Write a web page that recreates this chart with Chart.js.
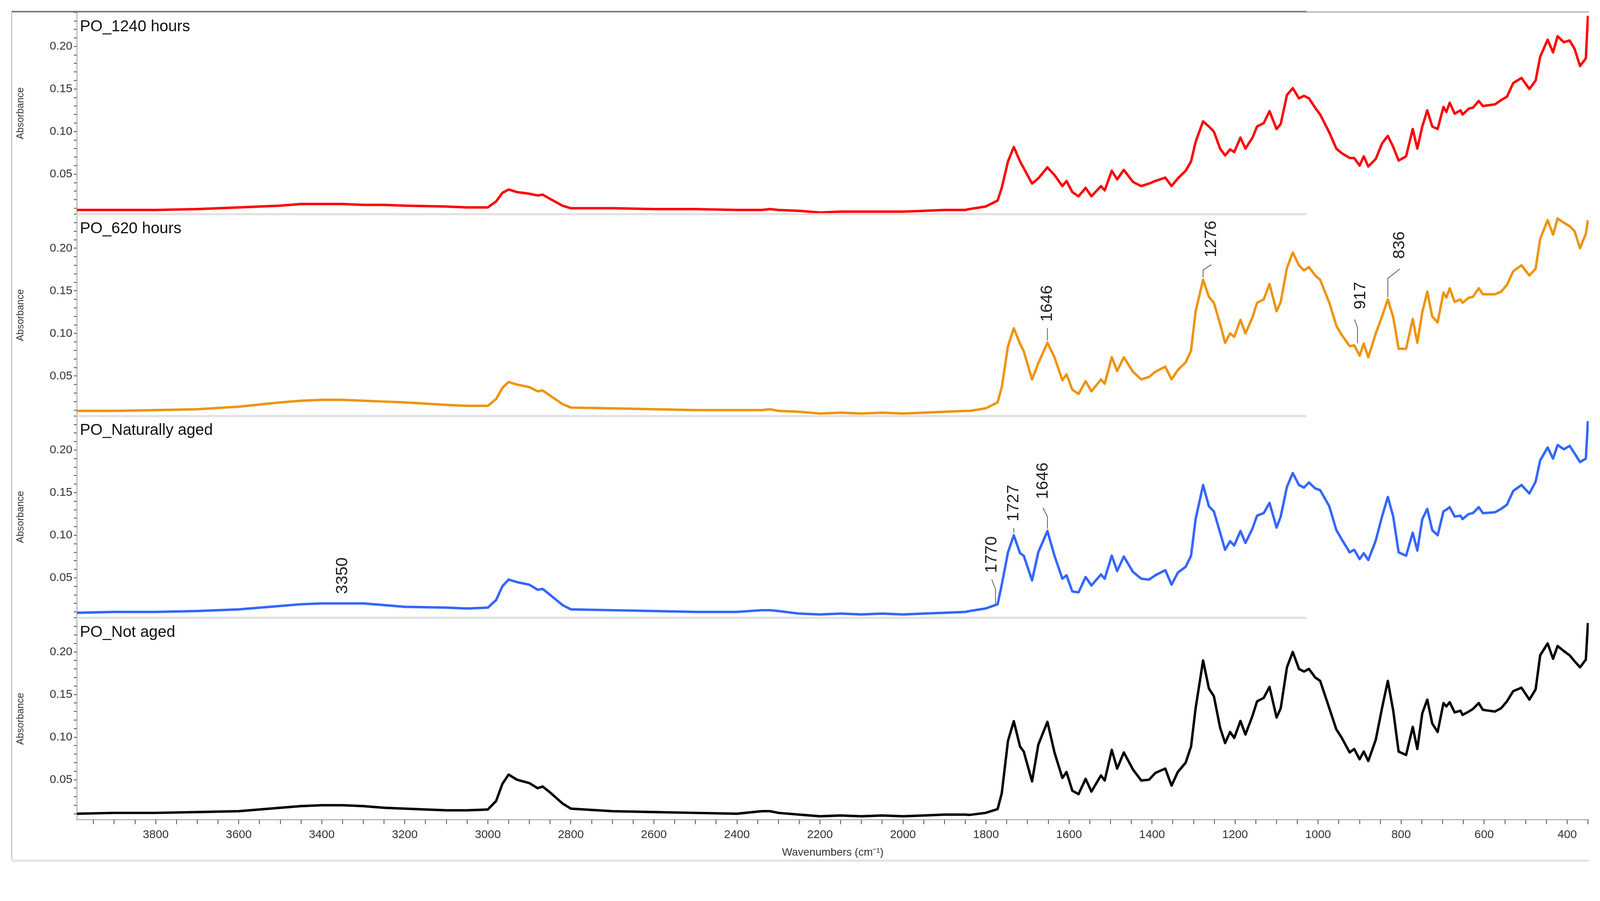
<!DOCTYPE html>
<html><head><meta charset="utf-8">
<script src="https://cdn.jsdelivr.net/npm/chart.js@4"></script>
<style>html,body{margin:0;padding:0;background:#fff;overflow:hidden}
#wrap{position:absolute;left:0;top:0;width:100vw;height:calc(100vw * 2306 / 4268)}
canvas{display:block}</style>
</head><body>
<div id="wrap"><canvas id="c"></canvas></div>
<script>
const SERIES_NAMES = ["PO_1240 hours","PO_620 hours","PO_Naturally aged","PO_Not aged"];
const WN_LEFT = [3990,3900,3800,3700,3600,3500,3450,3400,3350,3300,3250,3200,3100,3050,3000,2980,2965,2950,2930,2900,2880,2868,2850,2820,2800,2700,2600,2500,2400,2340,2320,2300,2250,2200,2150,2100,2050,2000,1950,1900,1850];
const WN_RIGHT = [1840,1801,1772,1762,1747,1733,1718,1709,1689,1674,1652,1635,1616,1606,1592,1577,1560,1546,1523,1514,1497,1484,1468,1446,1426,1407,1392,1368,1353,1338,1319,1306,1295,1277,1263,1251,1236,1224,1212,1202,1187,1175,1158,1147,1131,1117,1100,1090,1075,1061,1046,1034,1022,1007,995,973,956,944,924,913,900,890,879,861,846,832,819,806,788,772,761,749,737,725,712,698,691,683,671,657,652,637,627,613,603,574,559,545,530,510,491,476,465,447,434,423,408,394,382,369,355,350];

const RED_L = [0.008,0.008,0.008,0.009,0.011,0.013,0.015,0.015,0.015,0.014,0.014,0.013,0.012,0.011,0.011,0.018,0.028,0.032,0.029,0.027,0.025,0.026,0.021,0.013,0.010,0.010,0.009,0.009,0.008,0.008,0.009,0.008,0.007,0.005,0.006,0.006,0.006,0.006,0.007,0.008,0.008];
const RED_R = [0.009,0.012,0.019,0.034,0.065,0.082,0.065,0.057,0.039,0.045,0.058,0.049,0.036,0.042,0.029,0.024,0.034,0.024,0.036,0.031,0.054,0.044,0.055,0.041,0.036,0.039,0.042,0.046,0.036,0.045,0.054,0.065,0.088,0.112,0.106,0.100,0.080,0.072,0.079,0.076,0.093,0.080,0.093,0.106,0.110,0.124,0.103,0.109,0.143,0.151,0.139,0.142,0.139,0.128,0.120,0.099,0.080,0.075,0.069,0.069,0.060,0.071,0.059,0.068,0.086,0.095,0.082,0.066,0.071,0.103,0.080,0.106,0.125,0.106,0.103,0.129,0.123,0.134,0.121,0.125,0.120,0.127,0.128,0.136,0.130,0.132,0.137,0.141,0.157,0.163,0.150,0.160,0.188,0.208,0.193,0.212,0.205,0.207,0.197,0.177,0.186,0.236];
const ORANGE_L = [0.009,0.009,0.010,0.011,0.014,0.019,0.021,0.022,0.022,0.021,0.020,0.019,0.016,0.015,0.015,0.023,0.036,0.043,0.040,0.037,0.032,0.033,0.027,0.017,0.013,0.012,0.011,0.010,0.010,0.010,0.011,0.009,0.008,0.006,0.007,0.006,0.007,0.006,0.007,0.008,0.009];
const ORANGE_R = [0.009,0.012,0.019,0.037,0.085,0.106,0.088,0.079,0.046,0.065,0.089,0.072,0.045,0.052,0.034,0.029,0.044,0.032,0.046,0.041,0.072,0.056,0.072,0.055,0.046,0.049,0.055,0.061,0.046,0.057,0.066,0.080,0.126,0.163,0.143,0.136,0.111,0.089,0.100,0.096,0.116,0.100,0.119,0.136,0.140,0.158,0.126,0.137,0.177,0.195,0.180,0.174,0.178,0.168,0.163,0.136,0.109,0.099,0.085,0.086,0.074,0.088,0.072,0.100,0.120,0.140,0.119,0.082,0.082,0.117,0.089,0.125,0.149,0.120,0.113,0.148,0.142,0.153,0.137,0.140,0.136,0.142,0.143,0.153,0.146,0.146,0.149,0.157,0.173,0.180,0.168,0.176,0.211,0.233,0.216,0.235,0.230,0.226,0.220,0.200,0.217,0.233];
const BLUE_L = [0.009,0.010,0.010,0.011,0.013,0.017,0.019,0.020,0.020,0.020,0.018,0.016,0.015,0.014,0.015,0.024,0.040,0.048,0.045,0.042,0.036,0.037,0.030,0.018,0.013,0.012,0.011,0.010,0.010,0.012,0.012,0.011,0.008,0.007,0.008,0.007,0.008,0.007,0.008,0.009,0.010];
const BLUE_R = [0.011,0.014,0.019,0.042,0.080,0.100,0.079,0.076,0.047,0.080,0.105,0.076,0.049,0.053,0.034,0.033,0.051,0.041,0.054,0.049,0.076,0.058,0.075,0.057,0.049,0.048,0.053,0.059,0.042,0.056,0.063,0.076,0.119,0.159,0.134,0.128,0.103,0.083,0.093,0.088,0.105,0.091,0.108,0.123,0.126,0.138,0.109,0.122,0.157,0.173,0.159,0.156,0.162,0.155,0.153,0.134,0.106,0.096,0.080,0.083,0.072,0.079,0.071,0.094,0.122,0.145,0.122,0.080,0.076,0.103,0.082,0.119,0.131,0.106,0.100,0.128,0.130,0.133,0.122,0.123,0.119,0.125,0.126,0.133,0.126,0.127,0.131,0.136,0.152,0.159,0.149,0.163,0.188,0.203,0.190,0.206,0.201,0.205,0.196,0.186,0.190,0.234];
const BLACK_L = [0.010,0.011,0.011,0.012,0.013,0.017,0.019,0.020,0.020,0.019,0.017,0.016,0.014,0.014,0.015,0.025,0.045,0.056,0.050,0.046,0.040,0.042,0.035,0.022,0.016,0.013,0.012,0.011,0.010,0.013,0.013,0.011,0.009,0.007,0.008,0.007,0.008,0.007,0.008,0.009,0.009];
const BLACK_R = [0.0086,0.011,0.0155,0.034,0.0956,0.1187,0.089,0.083,0.048,0.091,0.118,0.082,0.052,0.059,0.037,0.033,0.051,0.036,0.055,0.049,0.085,0.063,0.082,0.062,0.049,0.050,0.058,0.063,0.043,0.059,0.070,0.089,0.134,0.190,0.157,0.148,0.111,0.093,0.106,0.099,0.119,0.103,0.125,0.142,0.146,0.159,0.123,0.134,0.182,0.200,0.180,0.177,0.180,0.170,0.166,0.134,0.109,0.100,0.082,0.086,0.074,0.083,0.072,0.097,0.134,0.166,0.131,0.083,0.079,0.112,0.086,0.128,0.144,0.116,0.106,0.140,0.136,0.141,0.129,0.131,0.126,0.130,0.133,0.140,0.132,0.130,0.134,0.142,0.154,0.158,0.144,0.156,0.196,0.210,0.192,0.207,0.201,0.196,0.189,0.182,0.191,0.234];

const ANN_PANEL = [1,1,1,1,2,2,2,2];
const ANN_WN    = [1652,1277,905,832,3350,1777,1733,1652];
const ANN_VAL   = [0.089,0.163,0.086,0.140,0.020,0.017,0.100,0.105];
const ANN_LABEL = ["1646","1276","917","836","3350","1770","1727","1646"];
const ANN_STYLE = [[33,0,0,17,0],[20,22,14,20,0],[41,-8,22,27,16],[50,32,25,27,0],[0,0,0,19,0],[39,-10,25,18,0],[13,0,0,18,0],[32,-12,24,23,0]];

const COLORS = ["#ff0000","#ee9410","#3366ff","#000000"];
const VALUES = [RED_L.concat(RED_R),ORANGE_L.concat(ORANGE_R),BLUE_L.concat(BLUE_R),BLACK_L.concat(BLACK_R)];
const WN = WN_LEFT.concat(WN_RIGHT);
const NARROW = "'Liberation Sans Narrow','Arial Narrow',sans-serif";
const SANS = "'Liberation Sans',Arial,sans-serif";
const AX = ['y1','y2','y3','y4'];
const S = window.innerWidth/4268;
const P = (v)=>v*S;

const datasets = VALUES.map((v,i)=>({
  label: SERIES_NAMES[i], yAxisID: AX[i],
  data: WN.map((w,j)=>({x:w,y:v[j]})),
  borderColor: COLORS[i], borderWidth: P(6.5), pointRadius: 0, tension: 0, fill:false,
  borderJoinStyle:'round'
}));

function yScale(i){
  return {
    type:'linear', position:'left', stack:'s', stackWeight:1,
    min:0.003, max:0.24, offset:false,
    border:{display:true,color:'#999',width:P(2)},
    grid:{display:true,drawOnChartArea:false,tickLength:P(8),color:'#444',lineWidth:P(2)},
    ticks:{stepSize:0.01,autoSkip:false,includeBounds:false,color:'#333',padding:P(4),
      font:{family:NARROW,size:P(31)},
      callback:(v)=>{const r=Math.round(v*100); return (r%5===0)?(r/100).toFixed(2):'';}},
    title:{display:true,text:'Absorbance',color:'#333',font:{family:SANS,size:P(26)},padding:{top:0,bottom:P(10)}},
    afterFit:(s)=>{s.width=P(165);}
  };
}
const scales = {
  x:{type:'linear',reverse:true,min:348,max:3990,
    border:{display:true,color:'#999',width:P(2)},
    grid:{display:true,drawOnChartArea:false,tickLength:P(12),color:'#444',lineWidth:P(2)},
    ticks:{stepSize:50,autoSkip:false,includeBounds:false,maxRotation:0,color:'#333',padding:P(10),
      font:{family:NARROW,size:P(31)},
      callback:(v)=>(v%200===0?String(v):'')},
    title:{display:true,text:'Wavenumbers (cm\u207B\u00B9)',color:'#333',font:{family:NARROW,size:P(29)},padding:{top:P(4)}},
    afterFit:(s)=>{s.height=P(110);}
  }
};
[3,2,1,0].forEach(i=>{scales[AX[i]]=yScale(i);});

const deco = {
  id:'deco',
  afterDraw(chart){
    const ctx=chart.ctx, ca=chart.chartArea, xs=chart.scales.x, H=chart.height;
    ctx.save();
    ctx.strokeStyle='#777'; ctx.lineWidth=P(4);
    ctx.beginPath(); ctx.moveTo(P(31),P(31)); ctx.lineTo(P(3485),P(31)); ctx.stroke();
    ctx.strokeStyle='#bbb';
    ctx.beginPath(); ctx.moveTo(P(3485),P(32)); ctx.lineTo(ca.right,P(32)); ctx.stroke();
    ctx.strokeStyle='#aaa'; ctx.lineWidth=P(2);
    ctx.beginPath(); ctx.moveTo(P(31),P(31)); ctx.lineTo(P(31),H-P(14)); ctx.stroke();
    ctx.strokeStyle='#e4e4e4'; ctx.lineWidth=P(6);
    ctx.beginPath(); ctx.moveTo(P(31),H-P(11)); ctx.lineTo(ca.right,H-P(11)); ctx.stroke();
    AX.forEach((id,i)=>{
      const s=chart.scales[id];
      if(i<3){
        ctx.strokeStyle='#e2e2e2'; ctx.lineWidth=P(6);
        ctx.beginPath(); ctx.moveTo(ca.left,s.bottom); ctx.lineTo(P(3485),s.bottom); ctx.stroke();
      }
      ctx.fillStyle='#111'; ctx.font=P(42)+"px "+NARROW; ctx.textBaseline='top'; ctx.textAlign='left';
      ctx.fillText(SERIES_NAMES[i], ca.left+P(8), s.top+P(18));
    });
    ANN_PANEL.forEach((p,k)=>{
      const s=chart.scales[AX[p]], st=ANN_STYLE[k];
      const x0=xs.getPixelForValue(ANN_WN[k]), y0=s.getPixelForValue(ANN_VAL[k])-P(6);
      const y1=y0-P(st[0]), x2=x0+P(st[1]), y2=y1-P(st[2]);
      if(st[0]>0){
        ctx.strokeStyle='#555'; ctx.lineWidth=P(2);
        ctx.beginPath(); ctx.moveTo(x0,y0); ctx.lineTo(x0,y1); ctx.lineTo(x2,y2); ctx.stroke();
      }
      ctx.save();
      ctx.translate(x2+P(st[4]), y2-P(st[3]));
      ctx.rotate(-Math.PI/2);
      ctx.fillStyle='#222'; ctx.font=P(44)+"px "+SANS;
      ctx.textAlign='left'; ctx.textBaseline='middle';
      ctx.fillText(ANN_LABEL[k],0,0);
      ctx.restore();
    });
    ctx.restore();
  }
};

new Chart(document.getElementById('c'),{
  type:'line',
  data:{datasets},
  options:{responsive:true,maintainAspectRatio:false,animation:false,
    layout:{padding:{left:P(40),top:P(33),right:P(30),bottom:P(10)}},
    plugins:{legend:{display:false},tooltip:{enabled:false}},
    scales},
  plugins:[deco]
});
</script>
</body></html>
